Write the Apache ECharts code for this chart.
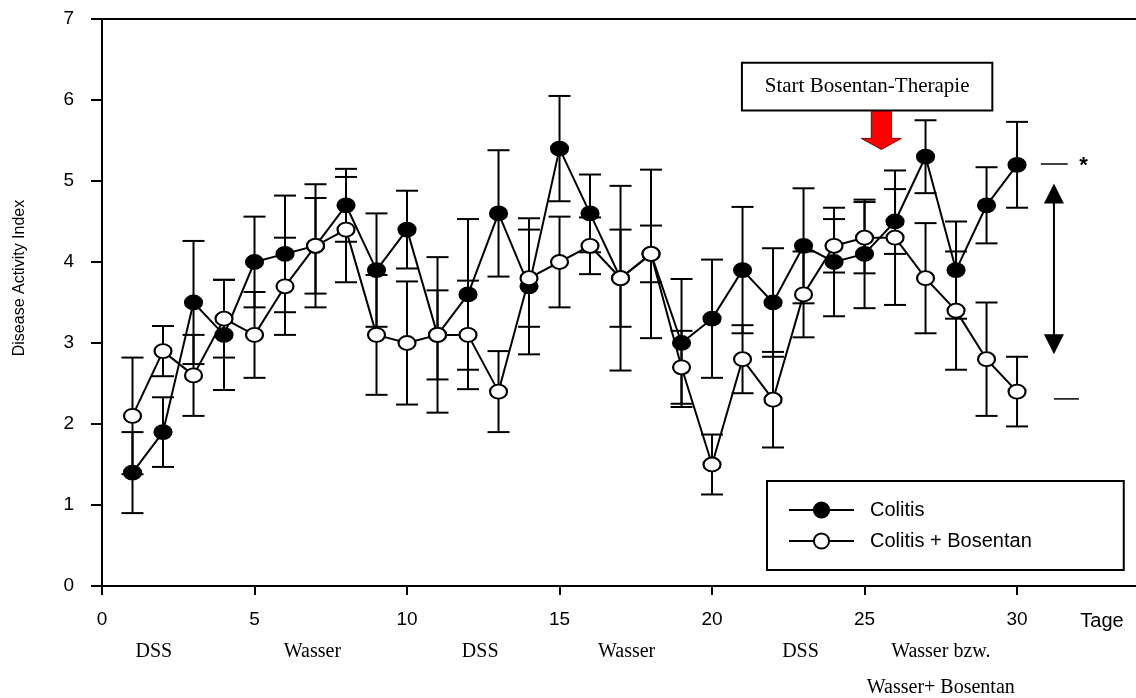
<!DOCTYPE html>
<html>
<head>
<meta charset="utf-8">
<title>Disease Activity Index</title>
<script src="https://cdn.jsdelivr.net/npm/echarts@6/dist/echarts.min.js"></script>
<style>
  html, body { margin: 0; padding: 0; background: #fff; }
  #main { width: 1136px; height: 698px; }
</style>
</head>
<body>
<div id="main"></div>
<script>
// Tage 1..30
var days = [1, 2, 3, 4, 5, 6, 7, 8, 9, 10, 11, 12, 13, 14, 15, 16, 17, 18, 19, 20, 21, 22, 23, 24, 25, 26, 27, 28, 29, 30];

// Colitis (gefuellte Kreise)
var colitisMean = [1.4, 1.9, 3.5, 3.1, 4.0, 4.1, 4.2, 4.7, 3.9, 4.4, 3.1, 3.6, 4.6, 3.7, 5.4, 4.6, 3.8, 4.1, 3.0, 3.3, 3.9, 3.5, 4.2, 4.0, 4.1, 4.5, 5.3, 3.9, 4.7, 5.2];
var colitisSd = [0.5, 0.43, 0.76, 0.68, 0.56, 0.72, 0.76, 0.45, 0.7, 0.48, 0.96, 0.93, 0.78, 0.84, 0.65, 0.48, 1.14, 1.04, 0.79, 0.73, 0.78, 0.67, 0.71, 0.67, 0.67, 0.4, 0.45, 0.6, 0.47, 0.53];

// Colitis + Bosentan (offene Kreise)
var bosentanMean = [2.1, 2.9, 2.6, 3.3, 3.1, 3.7, 4.2, 4.4, 3.1, 3.0, 3.1, 3.1, 2.4, 3.8, 4.0, 4.2, 3.8, 4.1, 2.7, 1.5, 2.8, 2.3, 3.6, 4.2, 4.3, 4.3, 3.8, 3.4, 2.8, 2.4];
var bosentanSd = [0.72, 0.31, 0.5, 0.48, 0.53, 0.6, 0.59, 0.65, 0.74, 0.76, 0.55, 0.67, 0.5, 0.6, 0.56, 0.35, 0.6, 0.35, 0.45, 0.37, 0.42, 0.59, 0.53, 0.33, 0.44, 0.83, 0.68, 0.73, 0.7, 0.43];

// Achsen
var xTicks = [0, 5, 10, 15, 20, 25, 30];
var yTicks = [0, 1, 2, 3, 4, 5, 6, 7];

// Phasen unter der x-Achse
var phaseNames = ['DSS', 'Wasser', 'DSS', 'Wasser', 'DSS', 'Wasser bzw.'];
var phaseDays = [1.7, 6.9, 12.4, 17.2, 22.9, 27.5];

var SANS = '"Liberation Sans", Arial, sans-serif';
var SERIF = '"Liberation Serif", "Times New Roman", serif';

function pairs(mean) {
  var out = [];
  for (var i = 0; i < days.length; i++) out.push([days[i], mean[i]]);
  return out;
}
function errData(mean, sd) {
  var out = [];
  for (var i = 0; i < days.length; i++) out.push([days[i], mean[i] - sd[i], mean[i] + sd[i]]);
  return out;
}

function renderErr(params, api) {
  var x = api.value(0);
  var lo = api.coord([x, api.value(1)]);
  var hi = api.coord([x, api.value(2)]);
  var w = 11;
  var st = { stroke: '#000', lineWidth: 2 };
  return {
    type: 'group',
    children: [
      { type: 'line', shape: { x1: hi[0], y1: hi[1], x2: lo[0], y2: lo[1] }, style: st },
      { type: 'line', shape: { x1: hi[0] - w, y1: hi[1], x2: hi[0] + w, y2: hi[1] }, style: st },
      { type: 'line', shape: { x1: lo[0] - w, y1: lo[1], x2: lo[0] + w, y2: lo[1] }, style: st }
    ]
  };
}

var chart = echarts.init(document.getElementById('main'));
chart.setOption({
  animation: false,
  backgroundColor: '#fff',
  grid: { left: 102, right: 0, top: 19, bottom: 112 },
  legend: {
    orient: 'vertical',
    left: 767,
    top: 481,
    data: ['Colitis', 'Colitis + Bosentan'],
    itemWidth: 65,
    itemHeight: 19,
    itemGap: 11,
    padding: [19, 92, 19, 21],
    borderColor: '#000',
    borderWidth: 2,
    backgroundColor: '#fff',
    selectedMode: false,
    textStyle: {
      color: '#000',
      fontFamily: SANS,
      fontSize: 20,
      padding: [0, 0, 0, 11]
    }
  },
  xAxis: [{
    type: 'value',
    min: 0,
    max: 33.9,
    interval: 5,
    axisLine: { lineStyle: { color: '#000', width: 2 } },
    axisTick: { length: 9, lineStyle: { color: '#000', width: 2 }, customValues: xTicks },
    axisLabel: { color: '#000', fontFamily: SANS, fontSize: 19, margin: 24, customValues: xTicks },
    splitLine: { show: false }
  }, {
    type: 'value',
    position: 'top',
    min: 0,
    max: 33.9,
    axisLine: { show: true, lineStyle: { color: '#000', width: 2 } },
    axisTick: { show: false },
    axisLabel: { show: false },
    splitLine: { show: false }
  }],
  yAxis: {
    type: 'value',
    min: 0,
    max: 7,
    interval: 1,
    axisLine: { show: true, lineStyle: { color: '#000', width: 2 } },
    axisTick: { show: true, length: 11, lineStyle: { color: '#000', width: 2 } },
    axisLabel: { color: '#000', fontFamily: SANS, fontSize: 19, margin: 28 },
    splitLine: { show: false }
  },
  series: [
    {
      name: 'Colitis SD',
      type: 'custom',
      renderItem: renderErr,
      data: errData(colitisMean, colitisSd),
      z: 1,
      silent: true
    },
    {
      name: 'Colitis + Bosentan SD',
      type: 'custom',
      renderItem: renderErr,
      data: errData(bosentanMean, bosentanSd),
      z: 1,
      silent: true
    },
    {
      name: 'Colitis',
      type: 'line',
      data: pairs(colitisMean),
      symbol: 'circle',
      symbolSize: [17, 14],
      showAllSymbol: true,
      lineStyle: { color: '#000', width: 2 },
      itemStyle: { color: '#000', borderColor: '#000', borderWidth: 2 },
      z: 2
    },
    {
      name: 'Colitis + Bosentan',
      type: 'line',
      data: pairs(bosentanMean),
      symbol: 'circle',
      symbolSize: [17, 14],
      showAllSymbol: true,
      lineStyle: { color: '#000', width: 2 },
      itemStyle: { color: '#fff', borderColor: '#000', borderWidth: 2 },
      z: 3
    }
  ]
});

// Beschriftungen und Pfeile
function px(x, y) {
  return chart.convertToPixel({ xAxisIndex: 0, yAxisIndex: 0 }, [x, y]);
}
var g = [];
var axisY = px(0, 0)[1];

for (var i = 0; i < phaseNames.length; i++) {
  g.push({
    type: 'text', x: px(phaseDays[i], 0)[0], y: axisY + 66,
    style: { text: phaseNames[i], font: '20px ' + SERIF, fill: '#000', textAlign: 'center', textVerticalAlign: 'middle' }
  });
}
g.push({
  type: 'text', x: px(27.5, 0)[0], y: axisY + 102,
  style: { text: 'Wasser+ Bosentan', font: '20px ' + SERIF, fill: '#000', textAlign: 'center', textVerticalAlign: 'middle' }
});
g.push({
  type: 'text', x: 1102, y: axisY + 35,
  style: { text: 'Tage', font: '20px ' + SANS, fill: '#000', textAlign: 'center', textVerticalAlign: 'middle' }
});
g.push({
  type: 'text', x: 20, y: 278, rotation: Math.PI / 2,
  style: { text: 'Disease Activity Index', font: '16px ' + SANS, fill: '#000', textAlign: 'center', textVerticalAlign: 'middle' }
});

// Start Bosentan-Therapie
var b1 = px(20.98, 6.46), b2 = px(29.19, 5.87);
g.push({
  type: 'rect', z: 10,
  shape: { x: b1[0], y: b1[1], width: b2[0] - b1[0], height: b2[1] - b1[1] },
  style: { fill: '#fff', stroke: '#000', lineWidth: 2 }
});
g.push({
  type: 'text', z: 11, x: (b1[0] + b2[0]) / 2, y: (b1[1] + b2[1]) / 2,
  style: { text: 'Start Bosentan-Therapie', font: '21px ' + SERIF, fill: '#000', textAlign: 'center', textVerticalAlign: 'middle' }
});
var rc = px(25.55, 5.86), rt = px(25.55, 5.39);
var rh = rt[1] - 11;
g.push({
  type: 'polygon', z: 10,
  shape: { points: [[rc[0] - 10, rc[1]], [rc[0] + 10, rc[1]], [rc[0] + 10, rh], [rc[0] + 20, rh], [rt[0], rt[1]], [rc[0] - 20, rh], [rc[0] - 10, rh]] },
  style: { fill: '#ff0000', stroke: '#7a0000', lineWidth: 1 }
});

// Signifikanz
var d1 = px(30.78, 5.21), d2 = px(31.66, 5.21);
g.push({ type: 'line', shape: { x1: d1[0], y1: d1[1], x2: d2[0], y2: d2[1] }, style: { stroke: '#000', lineWidth: 1.5 } });
g.push({
  type: 'text', x: px(32.18, 0)[0], y: d1[1] + 2,
  style: { text: '*', font: 'bold 22px ' + SANS, fill: '#000', textAlign: 'center', textVerticalAlign: 'middle' }
});
var d3 = px(31.21, 2.31), d4 = px(32.03, 2.31);
g.push({ type: 'line', shape: { x1: d3[0], y1: d3[1], x2: d4[0], y2: d4[1] }, style: { stroke: '#000', lineWidth: 1.5 } });
var at = px(31.21, 4.97), ab = px(31.21, 2.86);
g.push({ type: 'line', shape: { x1: at[0], y1: at[1] + 10, x2: ab[0], y2: ab[1] - 10 }, style: { stroke: '#000', lineWidth: 2 } });
g.push({ type: 'polygon', shape: { points: [[at[0], at[1]], [at[0] + 10, at[1] + 20], [at[0] - 10, at[1] + 20]] }, style: { fill: '#000' } });
g.push({ type: 'polygon', shape: { points: [[ab[0], ab[1]], [ab[0] + 10, ab[1] - 20], [ab[0] - 10, ab[1] - 20]] }, style: { fill: '#000' } });

chart.setOption({ graphic: g });
</script>
</body>
</html>
